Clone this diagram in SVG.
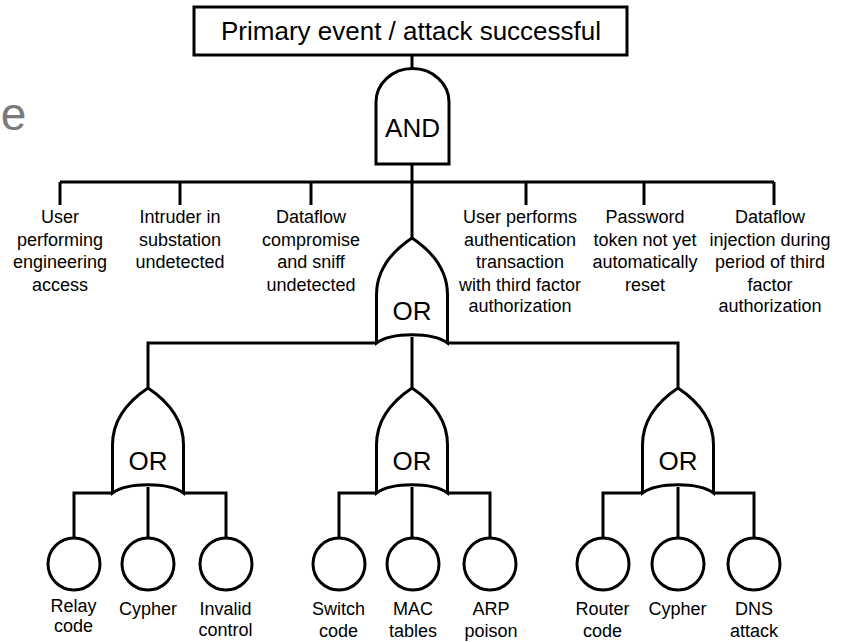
<svg xmlns="http://www.w3.org/2000/svg" width="844" height="642" viewBox="0 0 844 642">
<defs>
<style>
.ln{fill:none;stroke:#000;stroke-width:3;stroke-linejoin:miter}
.sh{fill:#fff;stroke:#000;stroke-width:3}
.t{font-family:"Liberation Sans",Arial,sans-serif;font-size:18px;fill:#000;text-anchor:middle}
.g{font-family:"Liberation Sans",Arial,sans-serif;font-size:26px;fill:#000;text-anchor:middle}
</style>
<path id="orShape" d="M0 0 C-15 10 -35.5 28 -35.5 57 L-35.5 105 C-20 94 20 94 35.5 105 L35.5 57 C35.5 28 15 10 0 0 Z"/>
</defs>
<rect width="844" height="642" fill="#fff"/>
<text x="0.8" y="130" font-family="'Liberation Sans',Arial,sans-serif" font-size="46" fill="#7a7a7a">e</text>

<g id="connectors" class="ln">
<path d="M412 55 V68"/>
<path d="M412 164 V182"/>
<path d="M60 182 H774"/>
<path d="M60 182 V205 M180 182 V205 M311 182 V205 M526 182 V205 M644 182 V205 M774 182 V205"/>
<path d="M412 182 V238"/>
<path d="M148 389 V343 H376.5 M447.5 343 H678 V389"/>
<path d="M412 337 V389"/>
<path d="M74 538 V493 H112.5 M183.5 493 H226 V538 M148 487 V538"/>
<path d="M339 538 V493 H376.5 M447.5 493 H490 V538 M412 487 V538"/>
<path d="M603 538 V493 H642.5 M713.5 493 H754 V538 M678 487 V538"/>
</g>

<g id="top-event">
<rect class="sh" x="194" y="7" width="433" height="48"/>
<text class="g" x="411" y="40">Primary event / attack successful</text>
</g>

<g id="and-gate">
<path class="sh" d="M376 164 V102 A36.5 33.5 0 0 1 449 102 V164 Z"/>
<text class="g" x="412.5" y="137">AND</text>
</g>

<g id="ev-user-eng">
<text class="t" x="60" y="223">User</text>
<text class="t" x="60" y="245.5">performing</text>
<text class="t" x="60" y="268">engineering</text>
<text class="t" x="60" y="290.5">access</text>
</g>
<g id="ev-intruder">
<text class="t" x="180" y="223">Intruder in</text>
<text class="t" x="180" y="245.5">substation</text>
<text class="t" x="180" y="268">undetected</text>
</g>
<g id="ev-dataflow-sniff">
<text class="t" x="311" y="223">Dataflow</text>
<text class="t" x="311" y="245.5">compromise</text>
<text class="t" x="311" y="268">and sniff</text>
<text class="t" x="311" y="290.5">undetected</text>
</g>
<g id="ev-user-auth">
<text class="t" x="520" y="223">User performs</text>
<text class="t" x="520" y="245.5">authentication</text>
<text class="t" x="520" y="268">transaction</text>
<text class="t" x="520" y="290.5">with third factor</text>
<text class="t" x="520" y="312">authorization</text>
</g>
<g id="ev-password">
<text class="t" x="645" y="223">Password</text>
<text class="t" x="645" y="245.5">token not yet</text>
<text class="t" x="645" y="268">automatically</text>
<text class="t" x="645" y="290.5">reset</text>
</g>
<g id="ev-dataflow-inject">
<text class="t" x="770" y="223">Dataflow</text>
<text class="t" x="770" y="245.5">injection during</text>
<text class="t" x="770" y="268">period of third</text>
<text class="t" x="770" y="290.5">factor</text>
<text class="t" x="770" y="312">authorization</text>
</g>

<g id="or-main">
<use href="#orShape" class="sh" x="412" y="238"/>
<text class="g" x="412" y="320">OR</text>
</g>
<g id="or-left">
<use href="#orShape" class="sh" x="148" y="388"/>
<text class="g" x="148" y="470">OR</text>
</g>
<g id="or-mid">
<use href="#orShape" class="sh" x="412" y="388"/>
<text class="g" x="412" y="470">OR</text>
</g>
<g id="or-right">
<use href="#orShape" class="sh" x="678" y="388"/>
<text class="g" x="678" y="470">OR</text>
</g>

<g id="relay-code">
<circle class="sh" cx="74" cy="564" r="26"/>
<text class="t" x="73.5" y="612">Relay</text>
<text class="t" x="73.5" y="632">code</text>
</g>
<g id="cypher-1">
<circle class="sh" cx="148" cy="564" r="26"/>
<text class="t" x="148" y="615">Cypher</text>
</g>
<g id="invalid-control">
<circle class="sh" cx="226" cy="564" r="26"/>
<text class="t" x="225.5" y="615">Invalid</text>
<text class="t" x="225.5" y="636">control</text>
</g>
<g id="switch-code">
<circle class="sh" cx="339" cy="564" r="26"/>
<text class="t" x="338.5" y="615">Switch</text>
<text class="t" x="338.5" y="637">code</text>
</g>
<g id="mac-tables">
<circle class="sh" cx="413" cy="564" r="26"/>
<text class="t" x="413" y="615">MAC</text>
<text class="t" x="413" y="637">tables</text>
</g>
<g id="arp-poison">
<circle class="sh" cx="490" cy="564" r="26"/>
<text class="t" x="491" y="615">ARP</text>
<text class="t" x="491" y="637">poison</text>
</g>
<g id="router-code">
<circle class="sh" cx="603" cy="564" r="26"/>
<text class="t" x="602.5" y="615">Router</text>
<text class="t" x="602.5" y="637">code</text>
</g>
<g id="cypher-2">
<circle class="sh" cx="678" cy="564" r="26"/>
<text class="t" x="677.5" y="615">Cypher</text>
</g>
<g id="dns-attack">
<circle class="sh" cx="754" cy="564" r="26"/>
<text class="t" x="754" y="615">DNS</text>
<text class="t" x="754" y="637">attack</text>
</g>
</svg>
